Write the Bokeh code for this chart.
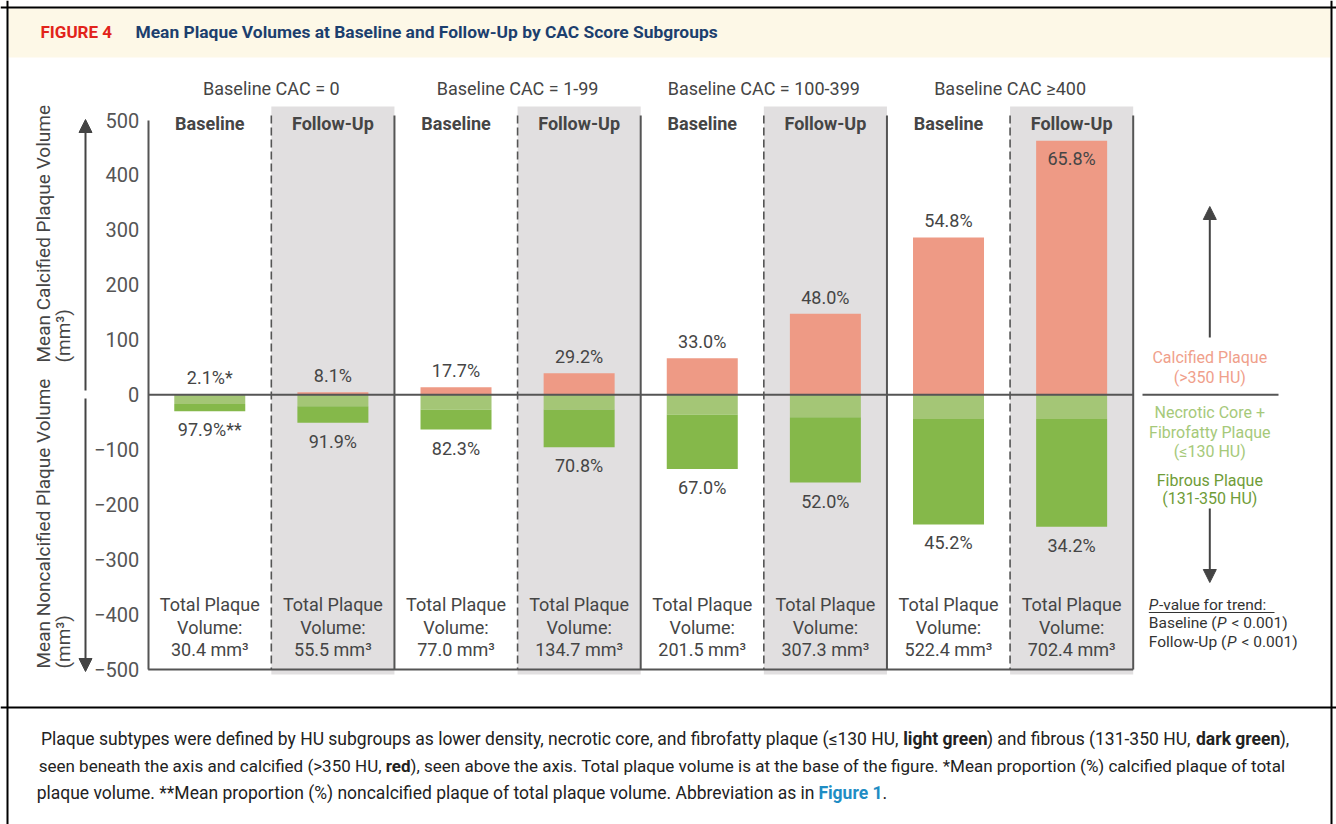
import math
from bokeh.plotting import figure
from bokeh.models import (ColumnDataSource, LinearAxis, FixedTicker, Range1d, Span,
                          BoxAnnotation, Arrow, NormalHead, Grid)
from bokeh.core.properties import value
from bokeh.embed import file_html
from bokeh.resources import INLINE

# ---------------- data ----------------
group_labels = ["Baseline CAC = 0", "Baseline CAC = 1-99", "Baseline CAC = 100-399", "Baseline CAC \u2265400"]
timepoints = ["Baseline", "Follow-Up", "Baseline", "Follow-Up", "Baseline", "Follow-Up", "Baseline", "Follow-Up"]
calcified = [0.6, 4.5, 13.6, 39.3, 66.5, 147.5, 286.3, 462.2]
necrotic_fibrofatty = [17.0, 21.0, 27.0, 27.0, 36.0, 41.0, 44.0, 44.0]
fibrous = [12.8, 30.0, 36.4, 68.4, 99.0, 118.8, 192.1, 196.2]
calc_pct_labels = ["2.1%*", "8.1%", "17.7%", "29.2%", "33.0%", "48.0%", "54.8%", "65.8%"]
noncalc_pct_labels = ["97.9%**", "91.9%", "82.3%", "70.8%", "67.0%", "52.0%", "45.2%", "34.2%"]
total_volume = ["30.4", "55.5", "77.0", "134.7", "201.5", "307.3", "522.4", "702.4"]
y_ticks = [-500, -400, -300, -200, -100, 0, 100, 200, 300, 400, 500]

# ---------------- layout constants ----------------
W, H = 1336, 824
AX_PX = 147.7      # page x of the value axis
COLW = 123.125     # px per column
ZERO_PY = 394.25   # page y of value 0
PPU = 0.5495       # px per mm3


def X(px):
    return (px - AX_PX) / COLW - 0.5


def Y(py):
    return (ZERO_PY - py) / PPU


x_start, x_end = X(0), X(W)
y_end, y_start = Y(0), Y(H)

FONT = "Roboto"
DARK = "#454545"
SALMON = "#ee9a85"
LGREEN = "#a4c676"
DGREEN = "#85b84a"
GRAY = "#e1dfe0"

p = figure(width=W, height=H, x_range=Range1d(x_start, x_end), y_range=Range1d(y_start, y_end),
           output_backend="svg", toolbar_location=None, x_axis_location=None, y_axis_location=None,
           min_border=0, outline_line_color=None, background_fill_color="white",
           border_fill_color="white")
for r in list(p.center):
    if isinstance(r, Grid):
        r.visible = False


def txt(xs, ys, texts, size, color, align="center", baseline="middle", style="normal",
        angle=0.0, x_offset=0, y_offset=0):
    src = ColumnDataSource(dict(x=list(xs), y=list(ys), t=list(texts)))
    p.text(x="x", y="y", text="t", source=src, text_font=value(FONT),
           text_font_size=value(f"{size}px"), text_color=color, text_align=value(align),
           text_baseline=value(baseline), text_font_style=value(style), angle=angle,
           x_offset=x_offset, y_offset=y_offset)


n = len(calcified)
idx = list(range(n))

# header band
p.add_layout(BoxAnnotation(left=X(8), right=X(1330), top=Y(8), bottom=Y(57),
                           fill_color="#fdf8e7", fill_alpha=1.0, line_color=None, level="underlay"))

# follow-up gray bands
fu = [i for i in idx if timepoints[i] == "Follow-Up"]
p.quad(left=[i - 0.5 for i in fu], right=[i + 0.5 for i in fu],
       top=[Y(106)] * len(fu), bottom=[Y(674)] * len(fu), fill_color=GRAY, line_color=None)

# separators
solid_x = [i + 0.5 for i in idx if timepoints[i] == "Follow-Up"]
dash_x = [i + 0.5 for i in idx if timepoints[i] == "Baseline"]
p.segment(x0=solid_x, x1=solid_x, y0=[Y(115)] * len(solid_x), y1=[-500] * len(solid_x),
          line_color="#555555", line_width=2)
p.segment(x0=dash_x, x1=dash_x, y0=[Y(115)] * len(dash_x), y1=[-500] * len(dash_x),
          line_color="#555555", line_width=1.6, line_dash="8 4")

# bars
bw = 71 / COLW
src = ColumnDataSource(dict(
    x=idx,
    calc=calcified,
    nec_bot=[-v for v in necrotic_fibrofatty],
    fib_bot=[-(a + b) for a, b in zip(necrotic_fibrofatty, fibrous)],
))
p.vbar(x="x", width=bw, bottom=0, top="calc", source=src, fill_color=SALMON, line_color=None)
p.vbar(x="x", width=bw, top=0, bottom="nec_bot", source=src, fill_color=LGREEN, line_color=None)
p.vbar(x="x", width=bw, top="nec_bot", bottom="fib_bot", source=src, fill_color=DGREEN, line_color=None)

# zero line and bottom line
p.segment(x0=[-0.5, -0.5], x1=[n - 0.5, n - 0.5], y0=[0, -500], y1=[0, -500],
          line_color="#555555", line_width=2)

# value axis
ax = LinearAxis(fixed_location=-0.5, bounds=(-500, 500), ticker=FixedTicker(ticks=y_ticks))
ax.major_label_overrides = {t: (str(t).replace("-", "\u2212")) for t in y_ticks}
ax.axis_line_color = "#555555"
ax.axis_line_width = 2
ax.major_tick_line_color = None
ax.minor_tick_line_color = None
ax.major_tick_out = 0
ax.major_tick_in = 0
ax.major_label_standoff = 9
ax.major_label_text_font = FONT
ax.major_label_text_font_size = "20px"
ax.major_label_text_color = "#555555"
p.add_layout(ax, "left")

# labels above / below bars
inside = [c > 400 for c in calcified]
top_src = ColumnDataSource(dict(
    x=idx, y=calcified, t=calc_pct_labels,
    base=["top" if f else "bottom" for f in inside],
    off=[7 if f else -6 for f in inside],
))
p.text(x="x", y="y", text="t", source=top_src, text_font=value(FONT), text_font_size=value("18px"),
       text_color=DARK, text_align=value("center"), text_baseline="base", y_offset="off")
txt(idx, [-(a + b) for a, b in zip(necrotic_fibrofatty, fibrous)], noncalc_pct_labels, 18, DARK,
    baseline="top", y_offset=8)

# total plaque volume
txt(idx, [Y(604)] * n, ["Total Plaque"] * n, 18, DARK)
txt(idx, [Y(626.5)] * n, ["Volume:"] * n, 18, DARK)
txt(idx, [Y(648.5)] * n, [f"{v} mm\u00b3" for v in total_volume], 18, DARK)

# group headers
txt([2 * g + 0.5 for g in range(len(group_labels))], [Y(88)] * len(group_labels), group_labels, 18, DARK)
txt(idx, [Y(123)] * n, timepoints, 18, DARK, style="bold")

# y titles and arrows
txt([X(43), X(63)], [Y(362), Y(362)], ["Mean Calcified Plaque Volume", "(mm\u00b3)"], 19, DARK,
    align="left", angle=math.pi / 2)
txt([X(43), X(63)], [Y(668), Y(668)], ["Mean Noncalcified Plaque Volume", "(mm\u00b3)"], 19, DARK,
    align="left", angle=math.pi / 2)


def arrow(px, py0, py1):
    p.add_layout(Arrow(end=NormalHead(size=13, fill_color="#444444", line_color="#444444"),
                       x_start=X(px), y_start=Y(py0), x_end=X(px), y_end=Y(py1),
                       line_color="#444444", line_width=2))


arrow(85, 390, 119)
arrow(85, 398, 671)

# legend on right
LX = 1209.3
arrow(LX, 337, 206)
arrow(LX, 508, 582)
p.segment(x0=[X(1142)], x1=[X(1278)], y0=[0], y1=[0], line_color="#555555", line_width=2)
LS = 16
txt([X(LX)] * 2, [Y(357.3), Y(376.7)], ["Calcified Plaque", "(>350 HU)"], LS, "#f0a08b")
txt([X(LX)] * 3, [Y(412.3), Y(431.7), Y(450.7)],
    ["Necrotic Core +", "Fibrofatty Plaque", "(\u2264130 HU)"], LS, "#a6c97a")
txt([X(LX)] * 2, [Y(480), Y(498.3)], ["Fibrous Plaque", "(131-350 HU)"], LS, "#6f9c38")

PCOL = "#333333"
PS = 15.5
txt([X(1148.3)], [Y(604)], ["P"], PS, PCOL, align="left", style="italic")
txt([X(1158.5)], [Y(604)], ["-value for trend:"], PS, PCOL, align="left")
p.segment(x0=[X(1148.3)], x1=[X(1274)], y0=[Y(612)], y1=[Y(612)], line_color=PCOL, line_width=1)
txt([X(1148.3)], [Y(622.7)], ["Baseline ("], PS, PCOL, align="left")
txt([X(1216.5)], [Y(622.7)], ["P"], PS, PCOL, align="left", style="italic")
txt([X(1231)], [Y(622.7)], ["< 0.001)"], PS, PCOL, align="left")
txt([X(1148.3)], [Y(641.7)], ["Follow-Up ("], PS, PCOL, align="left")
txt([X(1226.5)], [Y(641.7)], ["P"], PS, PCOL, align="left", style="italic")
txt([X(1241)], [Y(641.7)], ["< 0.001)"], PS, PCOL, align="left")

# header title
txt([X(40)], [Y(31)], ["FIGURE 4"], 17, "#e2231a", align="left", style="bold")
txt([X(135)], [Y(31)], ["Mean Plaque Volumes at Baseline and Follow-Up by CAC Score Subgroups"], 17.4,
    "#1c3f6e", align="left", style="bold")

# borders
p.add_layout(Span(location=X(7), dimension="height", line_color="black", line_width=2))
p.add_layout(Span(location=X(1331), dimension="height", line_color="black", line_width=2))
p.add_layout(Span(location=Y(7), dimension="width", line_color="black", line_width=2))
p.add_layout(Span(location=Y(707), dimension="width", line_color="black", line_width=2))

# caption
CAP = "#222222"
C1 = 17.5
C2 = 17
txt([X(898)], [Y(738)], ["Plaque subtypes were defined by HU subgroups as lower density, necrotic core, and fibrofatty plaque (\u2264130 HU,"], C1, CAP, align="right")
txt([X(902.7)], [Y(738)], ["light green"], C1, CAP, align="left", style="bold")
txt([X(986.4)], [Y(738)], [") and fibrous (131-350 HU,"], C1, CAP, align="left")
txt([X(1195.5)], [Y(738)], ["dark green"], C1, CAP, align="left", style="bold")
txt([X(1279.2)], [Y(738)], ["),"], C1, CAP, align="left")
txt([X(381)], [Y(765)], ["seen beneath the axis and calcified (>350 HU,"], C2, CAP, align="right")
txt([X(410)], [Y(765)], ["red"], C2, CAP, align="right", style="bold")
txt([X(410)], [Y(765)], ["), seen above the axis. Total plaque volume is at the base of the figure. *Mean proportion (%) calcified plaque of total"], C2, CAP, align="left")
txt([X(814)], [Y(792)], ["plaque volume. **Mean proportion (%) noncalcified plaque of total plaque volume. Abbreviation as in"], C1, CAP, align="right")
txt([X(882)], [Y(792)], ["Figure 1"], C1, "#1f8dc4", align="right", style="bold")
txt([X(882)], [Y(792)], ["."], C1, CAP, align="left")

open("out.html", "w").write(file_html(p, INLINE))
